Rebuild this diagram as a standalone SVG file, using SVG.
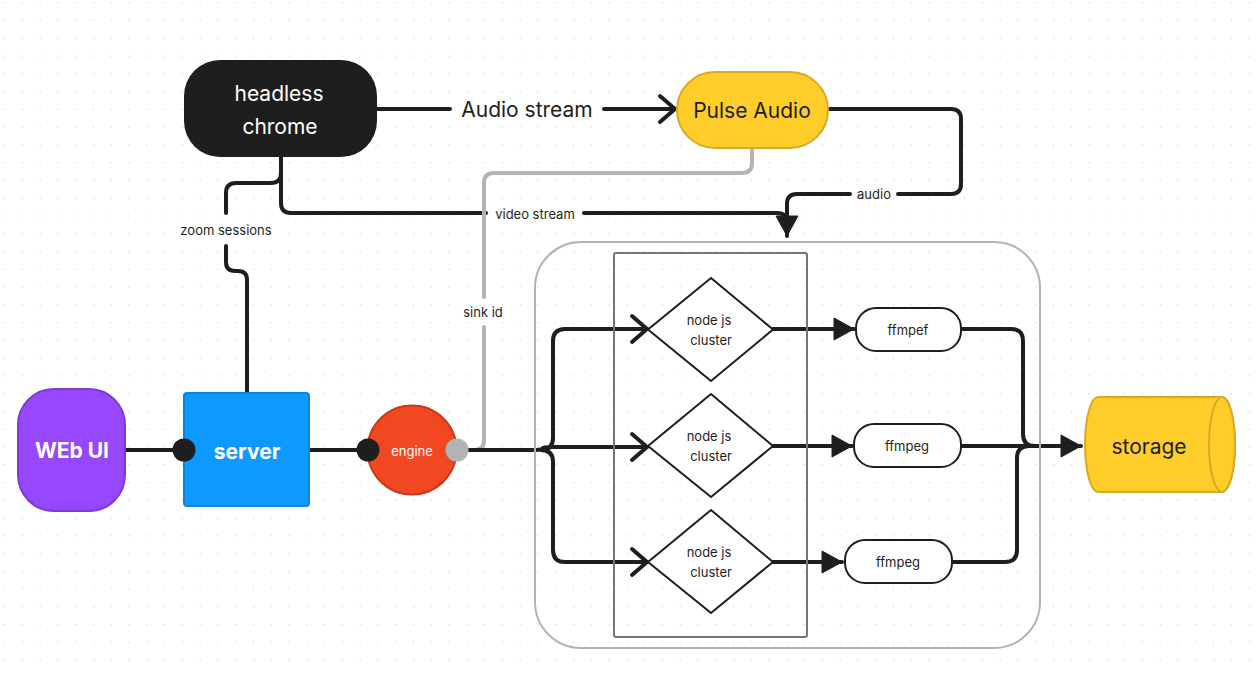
<svg xmlns="http://www.w3.org/2000/svg" width="1258" height="674" viewBox="0 0 1258 674">
<style>
text{font-family:Inter,"Liberation Sans",sans-serif;fill:#1e1e1e;text-anchor:middle;dominant-baseline:central}
.big{font-size:21px}
.sm{font-size:13px}
.wb{fill:#fff;font-weight:700;font-size:21px}
.w{fill:#fff}
.c{fill:none;stroke:#1e1e1e;stroke-width:4;stroke-linecap:round;stroke-linejoin:round}
.g{fill:none;stroke:#b3b3b3;stroke-width:4;stroke-linecap:round;stroke-linejoin:round}
.box{fill:#fff;stroke:#1e1e1e;stroke-width:2}
</style>
<defs>
<pattern id="dots" x="4" y="2.3" width="17.78" height="17.76" patternUnits="userSpaceOnUse">
<rect x="0" y="0" width="1.2" height="1.2" fill="#d4d4d4"/>
</pattern>
<marker id="open" viewBox="-19 -16 22 32" refX="0" refY="0" markerWidth="22" markerHeight="32" orient="auto" markerUnits="userSpaceOnUse">
<path d="M-15,-13 L0,0 L-15,13" fill="none" stroke="#1e1e1e" stroke-width="4" stroke-linecap="round" stroke-linejoin="round"/>
</marker>
<marker id="fill" viewBox="-22 -13 24 26" refX="0" refY="0" markerWidth="24" markerHeight="26" orient="auto" markerUnits="userSpaceOnUse">
<path d="M-20,-11 L0,0 L-20,11 Z" fill="#1e1e1e" stroke="#1e1e1e" stroke-width="1" stroke-linejoin="round"/>
</marker>
</defs>
<rect width="1258" height="674" fill="#fff"/>
<rect width="1258" height="674" fill="url(#dots)"/>

<g id="connectors">
<path class="c" d="M377,109 H450"/>
<path class="c" d="M604,109 H675" marker-end="url(#open)"/>
<text class="big" x="527" y="109">Audio stream</text>
<path class="c" d="M828,109 H951 Q961,109 961,119 V184 Q961,194 951,194 H898"/>
<text class="sm" x="874" y="194">audio</text>
<path class="c" d="M850,194 H797 Q787,194 787,204 V236" marker-end="url(#fill)"/>
<path class="c" d="M281,157 V203 Q281,213 291,213 H486"/>
<text class="sm" x="535" y="214">video stream</text>
<path class="c" d="M584,213 H777 Q787,213 787,223"/>
<path class="c" d="M281,157 V173 Q281,183 271,183 H236 Q226,183 226,193 V213"/>
<text class="sm" x="226" y="230">zoom sessions</text>
<path class="c" d="M226,246 V262 Q226,271 235,271 H238 Q247,271 247,280 V393"/>
<path class="c" d="M125,450 H184"/>
<path class="c" d="M309,450 H368"/>
<path class="g" d="M456,450 H474 Q484,450 484,440 V327"/>
<text class="sm" x="483" y="312">sink id</text>
<path class="g" d="M484,297 V183 Q484,173 494,173 H742 Q752,173 752,163 V148"/>
<path class="c" d="M466,450 H537 Q541,450 545,447.5"/>
<path class="c" d="M541,450 Q553,450 553,438 V341 Q553,329 565,329 H647" marker-end="url(#open)"/>
<path class="c" d="M543,448 Q548,447 553,447 H647" marker-end="url(#open)"/>
<path class="c" d="M541,450 Q553,450 553,462 V550 Q553,562 565,562 H647" marker-end="url(#open)"/>
<path class="c" d="M773,329 H854" marker-end="url(#fill)"/>
<path class="c" d="M773,446 H852" marker-end="url(#fill)"/>
<path class="c" d="M773,562 H842" marker-end="url(#fill)"/>
<path class="c" d="M961,329 H1011 Q1023,329 1023,341 V434 Q1023,446 1035,446"/>
<path class="c" d="M952,562 H1005 Q1017,562 1017,550 V458 Q1017,446 1029,446"/>
<path class="c" d="M961,446 H1081" marker-end="url(#fill)"/>
</g>

<g id="container">
<rect x="535" y="242" width="505" height="406" rx="46" fill="none" stroke="#b3b3b3" stroke-width="2"/>
<rect x="614" y="253" width="193" height="384" rx="2" fill="none" stroke="#757575" stroke-width="2"/>
</g>

<g id="headless-chrome">
<rect x="184" y="60" width="193" height="97" rx="36" fill="#1e1e1e"/>
<text class="big w" x="279" y="93">headless</text>
<text class="big w" x="280" y="126">chrome</text>
</g>
<g id="pulse-audio">
<rect x="677" y="72" width="151" height="76" rx="38" fill="#ffcd29" stroke="#d9a827" stroke-width="2"/>
<text class="big" x="752" y="110">Pulse Audio</text>
</g>
<g id="web-ui">
<rect x="18" y="389" width="107" height="122" rx="36" fill="#9747ff" stroke="#7d3bd6" stroke-width="2"/>
<text class="wb" x="72" y="450">WEb UI</text>
</g>
<g id="server">
<rect x="184" y="393" width="125" height="113" rx="3" fill="#0d99ff" stroke="#0b85dd" stroke-width="2"/>
<text class="wb" x="247" y="451">server</text>
<circle cx="184" cy="450" r="11.5" fill="#1e1e1e"/>
</g>
<g id="engine">
<circle cx="412" cy="450" r="44.5" fill="#f24822" stroke="#c8391b" stroke-width="2"/>
<text class="sm w" x="412" y="451">engine</text>
<circle cx="368" cy="450" r="11.5" fill="#1e1e1e"/>
<circle cx="457" cy="450" r="11.5" fill="#b3b3b3"/>
</g>
<g id="cluster-1">
<polygon class="box" points="711,278 773,329.5 711,381 648,329.5"/>
<text class="sm" x="709" y="320">node js</text>
<text class="sm" x="711" y="340">cluster</text>
</g>
<g id="cluster-2">
<polygon class="box" points="711,394 773,446 711,497 648,446"/>
<text class="sm" x="709" y="436">node js</text>
<text class="sm" x="711" y="456">cluster</text>
</g>
<g id="cluster-3">
<polygon class="box" points="711,510 773,562 711,613 648,562"/>
<text class="sm" x="709" y="552">node js</text>
<text class="sm" x="711" y="572">cluster</text>
</g>
<g id="ffmpef">
<rect class="box" x="856" y="308" width="105" height="43" rx="20"/>
<text class="sm" x="908" y="330">ffmpef</text>
</g>
<g id="ffmpeg-1">
<rect class="box" x="854" y="424" width="107" height="43" rx="20"/>
<text class="sm" x="907" y="446">ffmpeg</text>
</g>
<g id="ffmpeg-2">
<rect class="box" x="845" y="540" width="107" height="43" rx="20"/>
<text class="sm" x="898" y="562">ffmpeg</text>
</g>
<g id="storage">
<path d="M1098,397 H1222 A13,47.5 0 0 1 1222,492 H1098 A13,47.5 0 0 1 1098,397 Z" fill="#ffcd29" stroke="#d9a827" stroke-width="2"/>
<ellipse cx="1222" cy="444.5" rx="13" ry="47.5" fill="#ffcd29" stroke="#d9a827" stroke-width="2"/>
<text class="big" x="1149" y="446">storage</text>
</g>
</svg>
